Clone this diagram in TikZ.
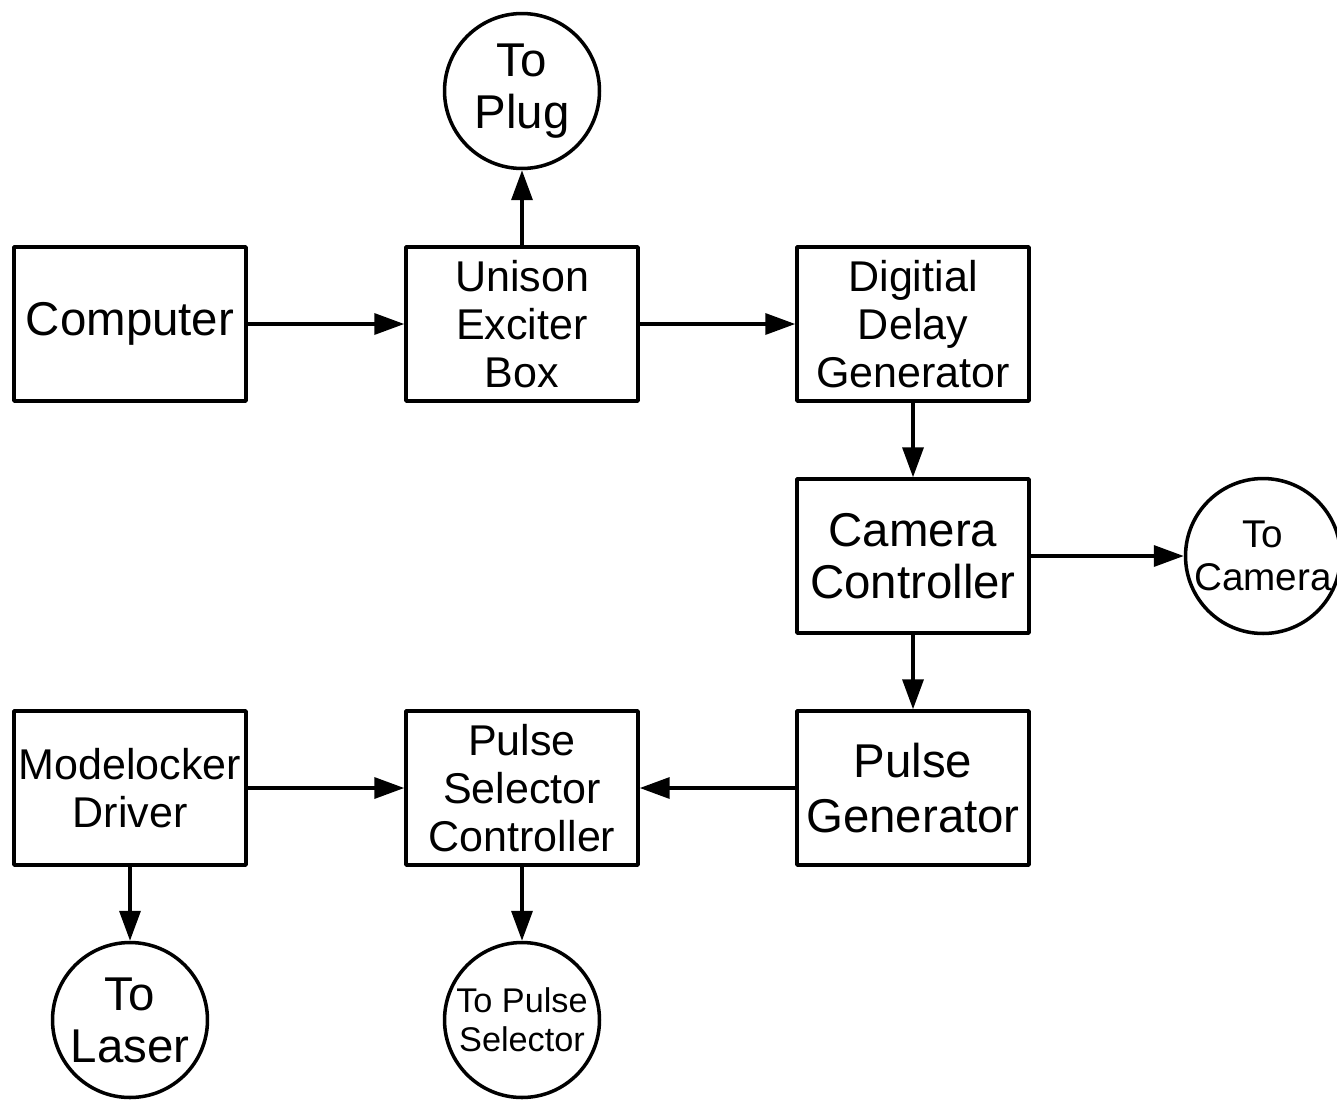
\documentclass[tikz,border=0pt]{standalone}
\usepackage{fontspec}
\setmainfont{Liberation Sans}
\usepackage{tikz}
\usetikzlibrary{arrows.meta,positioning}
\tikzset{blk/.style={draw,line width=2pt,minimum width=4.64cm,minimum height=3.08cm,align=center,inner sep=0pt},
  big/.style={font=\fontsize{27}{29.5}\selectfont},
  sml/.style={font=\fontsize{24.5}{27.5}\selectfont},
  ext/.style={draw,circle,line width=2pt,minimum size=3.1cm,align=center,inner sep=0pt}}

\begin{document}
\begin{tikzpicture}[x=0.02cm,y=-0.02cm,>={Triangle[length=0.6cm,width=0.42cm]},line join=round]
\useasboundingbox (0,0) rectangle (1337,1099);
% --- top row
\node[blk,big] (comp) at (130,324) {Computer};
\node[blk,sml] (unison) at (522,324) {Unison\\Exciter\\Box};
\node[blk,sml] (delay) at (913,324) {Digitial\\Delay\\Generator};
\node[ext,big] (plug) at (522,91) {To\\Plug};
% --- right column
\node[blk,big] (camctl) at (913,556) {Camera\\Controller};
\node[ext,font=\fontsize{22}{24.5}\selectfont] (cam) at (1263,556) {To\\Camera};
\node[blk,big] (pgen) at (913,788) {Pulse\\[2pt]Generator};
% --- bottom row
\node[blk,sml] (psel) at (522,788) {Pulse\\Selector\\Controller};
\node[blk,sml] (mode) at (130,788) {Modelocker\\Driver};
\node[ext,big] (laser) at (130,1020) {To\\Laser};
\node[ext,font=\fontsize{19.5}{22}\selectfont] (tosel) at (522,1020) {To Pulse\\Selector};
% --- connections
\begin{scope}[line width=2pt]
\draw[->] (comp) -- (unison);
\draw[->] (unison) -- (plug);
\draw[->] (unison) -- (delay);
\draw[->] (delay) -- (camctl);
\draw[->] (camctl) -- (cam);
\draw[->] (camctl) -- (pgen);
\draw[->] (pgen) -- (psel);
\draw[->] (mode) -- (psel);
\draw[->] (mode) -- (laser);
\draw[->] (psel) -- (tosel);
\end{scope}
\end{tikzpicture}
\end{document}
